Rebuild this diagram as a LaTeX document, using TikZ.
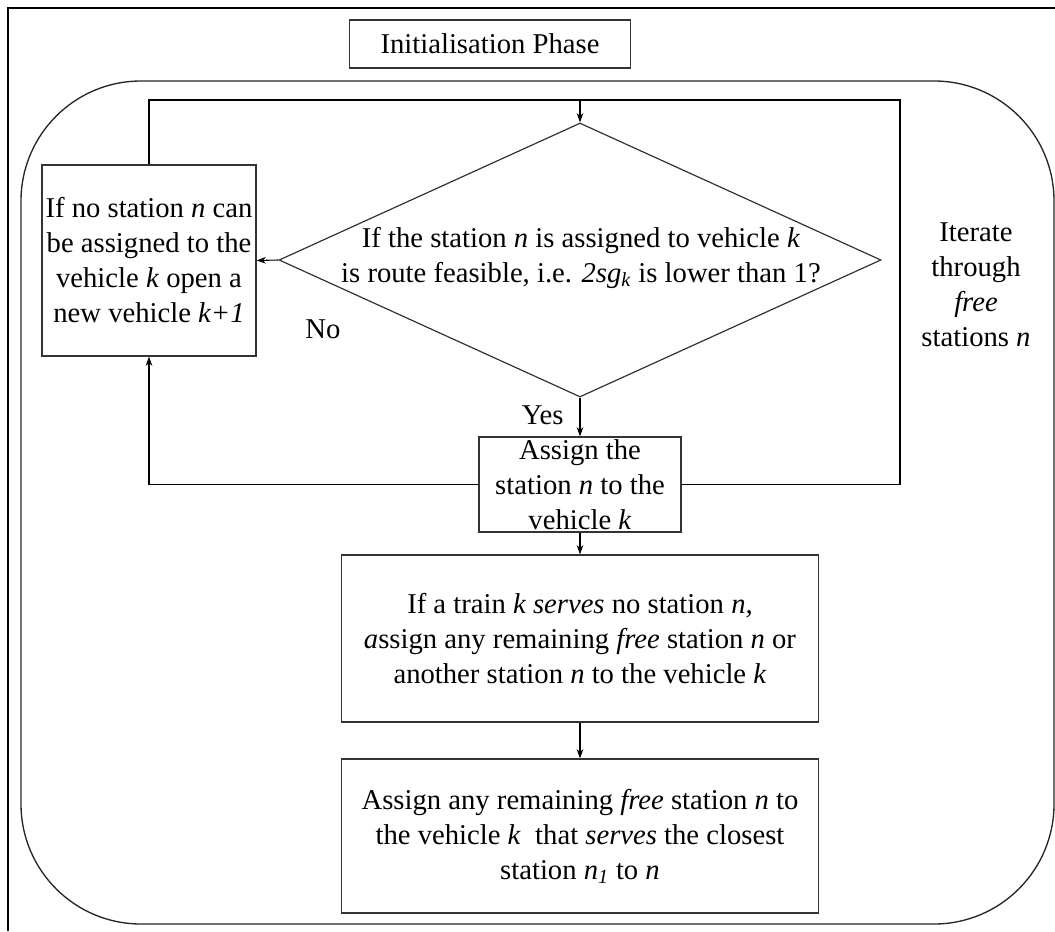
\documentclass[tikz,border=0pt]{standalone}
\usepackage{fontspec}
\setmainfont{Liberation Serif}
\usetikzlibrary{shapes.geometric, arrows.meta}

\begin{document}
\begin{tikzpicture}[x=0.75pt, y=-0.75pt, >={Stealth[length=7pt, width=5pt]}, line width=0.8pt,
    every node/.style={font=\fontsize{21.5}{26.25}\selectfont, align=center, inner sep=0pt},
    stepbox/.style={draw=black!80, line width=0.9pt, rectangle},
    decision/.style={draw=black!80, line width=0.9pt, diamond}]
				\useasboundingbox (0,0) rectangle (1055,931);
				
				% 1. outer frame and iteration region
				\draw[line width=1.3pt] (1055,8) -- (8,8) -- (8,931);
				\draw[line width=1pt, black!85, rounded corners=90pt] (21,81) rectangle (1054,924);
				
				% 2. blocks
				\node[stepbox, minimum width=210.75pt, minimum height=36pt] (init) at (490,44) {Initialisation Phase};
				\node[decision, minimum width=451.5pt, minimum height=205.5pt] (check) at (580,260) {};
				\node (checktxt) at (581,258) {If the station \textit{n} is assigned to vehicle \textit{k}\\is route feasible, i.e. \textit{2sg}\textsubscript{\textit{k}} is lower than 1?};
				\node[stepbox, minimum width=160.5pt, minimum height=143.25pt] (newveh) at (149,260.5)
				  {If no station \textit{n} can\\be assigned to the\\vehicle \textit{k} open a\\new vehicle \textit{k+1}};
				\node[stepbox, minimum width=151.5pt, minimum height=71.25pt] (assign) at (580,484.5)
				  {Assign the\\station \textit{n} to the\\vehicle \textit{k}};
				\node[stepbox, minimum width=357.75pt, minimum height=125.25pt] (serve) at (580,638.5)
				  {If a train \textit{k serves} no station \textit{n,}\\\textit{a}ssign any remaining \textit{free} station \textit{n} or\\another station \textit{n} to the vehicle \textit{k}};
				\node[stepbox, minimum width=357.75pt, minimum height=115.5pt] (closest) at (580,836)
				  {Assign any remaining \textit{free} station \textit{n} to\\the vehicle \textit{k}\ \ that \textit{serves} the closest\\station \textit{n}\textsubscript{\textit{1}} to \textit{n}};
				
				% 3. labels
				\node (iterlabel) at (976,285) {Iterate\\through\\\textit{free}\\stations \textit{n}};
				\node (nolabel) at (323,329) {No};
				\node[anchor=east] (yeslabel) at (564,415) {Yes};
				
				% 4. loop connectors
				\coordinate (looptop) at (580,100);
				\coordinate (loopright) at (900,100);
				\draw[->] (newveh.north) |- (looptop) -- (check.north);
				\draw (assign.east) -| (loopright) -- (looptop);
				\draw[->] (assign.west) -| (newveh.south);
				
				% 5. flow connectors
				\draw[->] (check.west) -- (newveh.east);
				\draw[->] (check.south) -- (assign.north);
				\draw[->] (assign.south) -- (serve.north);
				\draw[->] (serve.south) -- (closest.north);
			\end{tikzpicture}
\end{document}
